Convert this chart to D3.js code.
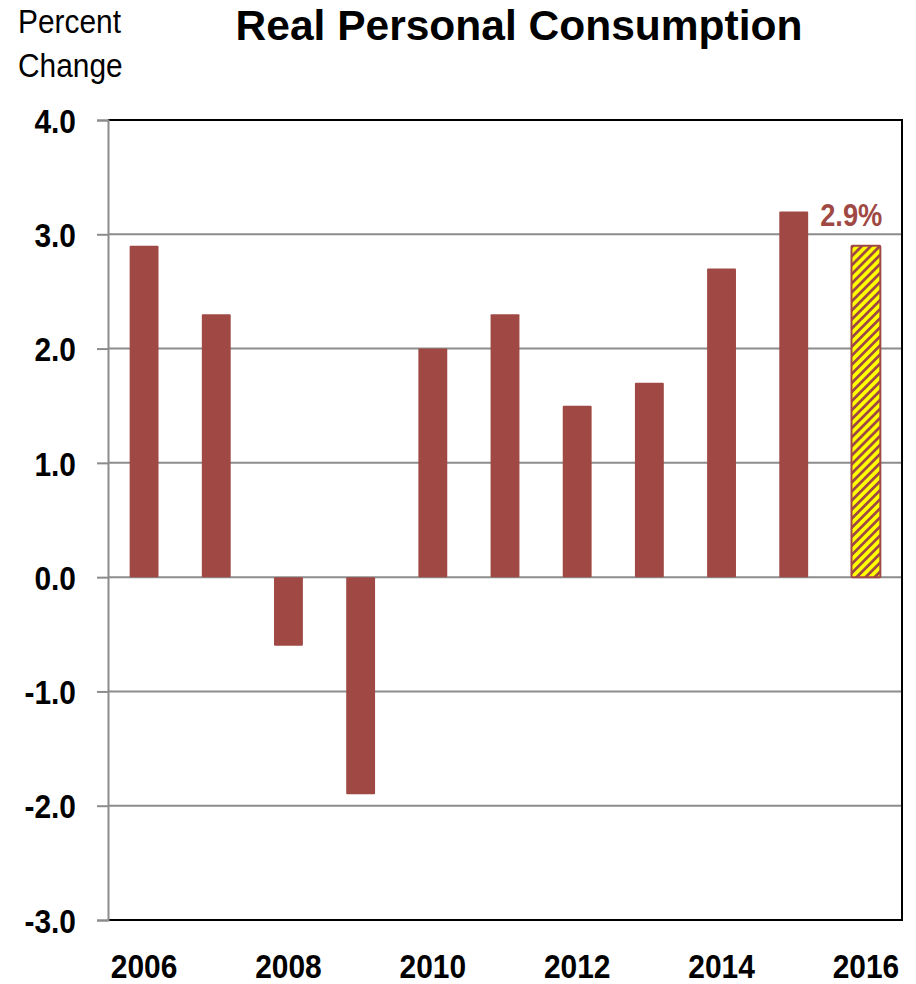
<!DOCTYPE html>
<html>
<head>
<meta charset="utf-8">
<script src="https://cdn.jsdelivr.net/npm/d3@7"></script>
<style>
  body { margin: 0; background: #fff; }
  .tick text { font-family: "Liberation Sans", Arial, sans-serif; font-weight: bold; }
</style>
</head>
<body>
<script>
var years = [2006, 2007, 2008, 2009, 2010, 2011, 2012, 2013, 2014, 2015, 2016];
var values = [2.9, 2.3, -0.6, -1.9, 2.0, 2.3, 1.5, 1.7, 2.7, 3.2, 2.9];
var forecastYear = 2016;
var forecastLabel = "2.9%";
var yTicks = [-3, -2, -1, 0, 1, 2, 3, 4];
var xLabelYears = [2006, 2008, 2010, 2012, 2014, 2016];

var margin = {top: 120, right: 14, bottom: 64, left: 108},
    width = 916 - margin.left - margin.right,
    height = 984 - margin.top - margin.bottom;

var barColor = "#a04944";
var squeeze = 0.88; // the original uses a condensed face

var svg = d3.select("body").append("svg")
    .attr("width", 916)
    .attr("height", 984);

var defs = svg.append("defs");
var pat = defs.append("pattern")
    .attr("id", "hatch")
    .attr("patternUnits", "userSpaceOnUse")
    .attr("width", 6.4)
    .attr("height", 6.4)
    .attr("patternTransform", "rotate(45)");
pat.append("rect").attr("width", 6.4).attr("height", 6.4).attr("fill", "#ffff00");
pat.append("rect").attr("width", 2.8).attr("height", 6.4).attr("fill", barColor)
    .attr("shape-rendering", "crispEdges");

var g = svg.append("g")
    .attr("transform", "translate(" + margin.left + "," + margin.top + ")");

var x = d3.scaleBand()
    .domain(years)
    .range([0, width])
    .paddingInner(0.6)
    .paddingOuter(0.3);

var y = d3.scaleLinear()
    .domain([-3, 4])
    .range([height, 0]);

// gridlines
g.append("g")
    .selectAll("line")
    .data(yTicks.filter(function(d) { return d > -3 && d < 4; }))
    .enter().append("line")
    .attr("x1", 0)
    .attr("x2", width)
    .attr("y1", function(d) { return y(d); })
    .attr("y2", function(d) { return y(d); })
    .attr("stroke", "#8c8c8c")
    .attr("stroke-width", 2);

// bars
g.append("g")
    .selectAll("rect")
    .data(years)
    .enter().append("rect")
    .attr("x", function(d) { return x(d); })
    .attr("width", x.bandwidth())
    .attr("y", function(d, i) { return y(Math.max(0, values[i])); })
    .attr("height", function(d, i) { return Math.abs(y(values[i]) - y(0)); })
    .attr("rx", 1)
    .attr("fill", function(d) { return d === forecastYear ? "url(#hatch)" : barColor; })
    .attr("stroke", function(d) { return d === forecastYear ? barColor : "none"; })
    .attr("stroke-width", 2);

// frame: top, right, bottom black
g.append("path")
    .attr("d", "M0,0H" + width + "V" + height + "H0")
    .attr("fill", "none")
    .attr("stroke", "#000")
    .attr("stroke-width", 2);

// y axis
var yAxis = g.append("g")
    .call(d3.axisLeft(y).tickValues(yTicks).tickSize(11).tickPadding(20));
yAxis.select(".domain").attr("stroke", "#8c8c8c").attr("stroke-width", 2);
yAxis.selectAll(".tick line").attr("stroke", "#8c8c8c").attr("stroke-width", 2);
yAxis.selectAll(".tick text")
    .attr("fill", "#000")
    .style("font-size", "34px")
    .attr("x", 0)
    .attr("dy", "0.36em")
    .attr("transform", "translate(-32,0) scale(" + squeeze + ",1)")
    .text(function(d) { return d < 0 ? "-" + d3.format(".1f")(-d) : d3.format(".1f")(d); });

// x axis labels
var xAxis = g.append("g")
    .attr("transform", "translate(0," + height + ")")
    .call(d3.axisBottom(x).tickValues(xLabelYears).tickSize(0).tickPadding(58));
xAxis.select(".domain").remove();
xAxis.selectAll(".tick text")
    .attr("fill", "#000")
    .style("font-size", "34px")
    .attr("dy", "0")
    .attr("transform", "scale(" + squeeze + ",1)");

// forecast label
var fi = years.indexOf(forecastYear);
g.append("text")
    .attr("transform", "translate(" + (x(forecastYear) + x.bandwidth() + 2) + "," + (y(values[fi]) - 20) + ") scale(" + squeeze + ",1)")
    .attr("text-anchor", "end")
    .style("font-family", "'Liberation Sans', Arial, sans-serif")
    .style("font-weight", "bold")
    .style("font-size", "31px")
    .attr("fill", barColor)
    .text(forecastLabel);

// title
svg.append("text")
    .attr("x", 519)
    .attr("y", 40)
    .attr("text-anchor", "middle")
    .style("font-family", "'Liberation Sans', Arial, sans-serif")
    .style("font-weight", "bold")
    .style("font-size", "42.5px")
    .text("Real Personal Consumption");

// y axis title
var yt = svg.append("text")
    .attr("transform", "translate(18,0) scale(0.92,1)")
    .style("font-family", "'Liberation Sans', Arial, sans-serif")
    .style("font-size", "32.5px")
    .attr("fill", "#000");
yt.append("tspan").attr("x", 0).attr("y", 33).text("Percent");
yt.append("tspan").attr("x", 0).attr("y", 77).text("Change");
</script>
</body>
</html>
